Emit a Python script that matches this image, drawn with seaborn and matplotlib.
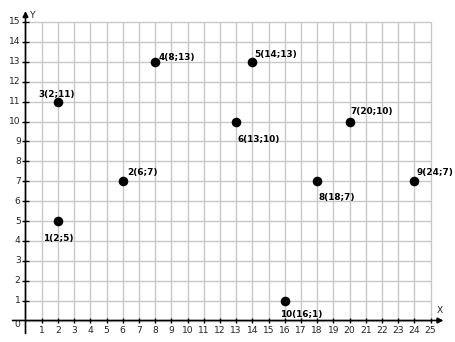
import matplotlib
matplotlib.use("Agg")
import matplotlib.pyplot as plt
import seaborn as sns
import pandas as pd

# ---- data ----
point_ids = [1, 2, 3, 4, 5, 6, 7, 8, 9, 10]
xs = [2, 6, 2, 8, 14, 13, 20, 18, 24, 16]
ys = [5, 7, 11, 13, 13, 10, 10, 7, 7, 1]
x_ticks = list(range(1, 26))
y_ticks = list(range(1, 16))
x_grid = list(range(0, 26))
y_grid = list(range(0, 16))

# label offsets in pixels (dx to left edge / center, dy center), alignment
label_pos = {
    1: (0, -17, "center"),
    2: (5, 9, "left"),
    3: (-1, 7, "center"),
    4: (4, 4, "left"),
    5: (2, 7, "left"),
    6: (1, -18, "left"),
    7: (1, 10, "left"),
    8: (1, -16, "left"),
    9: (2, 9, "left"),
    10: (-5, -14, "left"),
}

df = pd.DataFrame({"x": xs, "y": ys, "id": point_ids})

sns.set_style("white")
plt.rcParams["font.family"] = ["DejaVu Sans"]

W, H = 456, 342
fig = plt.figure(figsize=(W / 100, H / 100), dpi=100)
ax = fig.add_axes([0, 0, 1, 1])

x0px, sx = 25.5, 16.2
y0px, sy = 320.5, 19.9
ax.set_xlim(-x0px / sx, (W - x0px) / sx)
ax.set_ylim((y0px - H) / sy, y0px / sy)
ax.axis("off")

grid_c = "#c8c8c8"
ax.vlines(x_grid, 0, max(y_grid), color=grid_c, lw=1, zorder=1)
ax.hlines(y_grid, 0, max(x_grid), color=grid_c, lw=1, zorder=1)

# axes with arrows
ax.annotate("", xy=(25.8, 0), xytext=(-0.8, 0),
            arrowprops=dict(arrowstyle="-|>", color="black", lw=1.2,
                            mutation_scale=8, shrinkA=0, shrinkB=0), zorder=3)
ax.annotate("", xy=(0, 15.55), xytext=(0, -0.65),
            arrowprops=dict(arrowstyle="-|>", color="black", lw=1.2,
                            mutation_scale=8, shrinkA=0, shrinkB=0), zorder=3)

# ticks
ax.vlines(x_ticks, -0.13, 0.13, color="black", lw=1, zorder=3)
ax.hlines(y_ticks, -0.2, 0.2, color="black", lw=1, zorder=3)

fs = 6.6
for t in x_ticks:
    ax.text(t, -0.27, str(t), ha="center", va="top", fontsize=fs, color="#222222")
for t in y_ticks:
    ax.text(-0.3, t, str(t), ha="right", va="center", fontsize=fs, color="#222222")
ax.text(-0.3, -0.22, "0", ha="right", va="center", fontsize=fs, color="#222222")
ax.text(25.55, 0.5, "X", ha="center", va="center", fontsize=fs, color="#222222")
ax.text(0.45, 15.35, "Y", ha="center", va="center", fontsize=fs, color="#222222")

sns.scatterplot(data=df, x="x", y="y", ax=ax, color="black", s=48,
                edgecolor="black", linewidth=0, zorder=4, legend=False)
ax.set_xlabel("")
ax.set_ylabel("")

for pid, x, y in zip(point_ids, xs, ys):
    dx, dy, ha = label_pos[pid]
    ax.annotate(f"{pid}({x};{y})", xy=(x, y), xytext=(dx * 0.72, dy * 0.72),
                textcoords="offset points", ha=ha, va="center",
                fontsize=6.4, fontweight="semibold", color="#000000", zorder=5)

fig.savefig("out.png", dpi=100)
